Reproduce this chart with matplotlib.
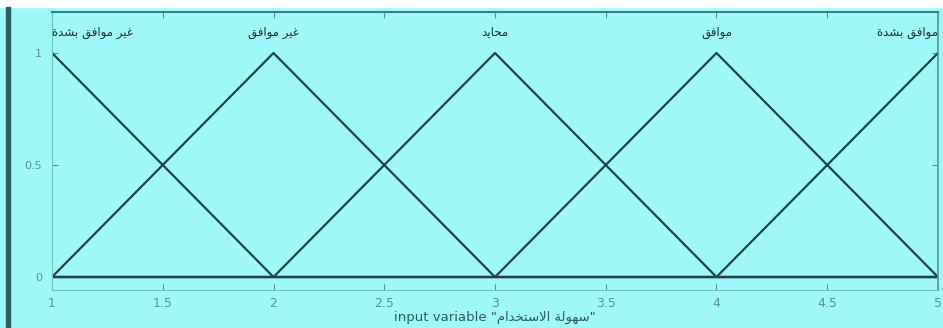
import numpy as np
import matplotlib.pyplot as plt
from matplotlib.patches import Rectangle

# Data: membership functions read at the break points
x_points = [1, 2, 3, 4, 5]
mf_strongly_disagree = [1, 0, 0, 0, 0]
mf_disagree = [0, 1, 0, 0, 0]
mf_neutral = [0, 0, 1, 0, 0]
mf_agree = [0, 0, 0, 1, 0]
mf_strongly_agree = [0, 0, 0, 0, 1]
mf_names = ["غير موافق بشدة", "غير موافق", "محايد", "موافق", "موافق بشدة"]
mf_peaks = [1, 2, 3, 4, 5]
var_name = "سهولة الاستخدام"
x_ticks = [1, 1.5, 2, 2.5, 3, 3.5, 4, 4.5, 5]
x_tick_labels = ["1", "1.5", "2", "2.5", "3", "3.5", "4", "4.5", "5"]
y_ticks = [0, 0.5, 1]
y_tick_labels = ["0", "0.5", "1"]

# small arabic shaper (matplotlib does no shaping / bidi)
FORMS = {
    "ا": (0xFE8D, 0xFE8E, None, None),
    "ب": (0xFE8F, 0xFE90, 0xFE91, 0xFE92),
    "ة": (0xFE93, 0xFE94, None, None),
    "ت": (0xFE95, 0xFE96, 0xFE97, 0xFE98),
    "ح": (0xFEA1, 0xFEA2, 0xFEA3, 0xFEA4),
    "خ": (0xFEA5, 0xFEA6, 0xFEA7, 0xFEA8),
    "د": (0xFEA9, 0xFEAA, None, None),
    "ر": (0xFEAD, 0xFEAE, None, None),
    "س": (0xFEB1, 0xFEB2, 0xFEB3, 0xFEB4),
    "ش": (0xFEB5, 0xFEB6, 0xFEB7, 0xFEB8),
    "غ": (0xFECD, 0xFECE, 0xFECF, 0xFED0),
    "ف": (0xFED1, 0xFED2, 0xFED3, 0xFED4),
    "ق": (0xFED5, 0xFED6, 0xFED7, 0xFED8),
    "ل": (0xFEDD, 0xFEDE, 0xFEDF, 0xFEE0),
    "م": (0xFEE1, 0xFEE2, 0xFEE3, 0xFEE4),
    "ه": (0xFEE9, 0xFEEA, 0xFEEB, 0xFEEC),
    "و": (0xFEED, 0xFEEE, None, None),
    "ي": (0xFEF1, 0xFEF2, 0xFEF3, 0xFEF4),
    "لا": (0xFEFB, 0xFEFC, None, None),
}


def shape(text):
    units = []
    i = 0
    while i < len(text):
        if text[i:i + 2] == "لا":
            units.append("لا")
            i += 2
        else:
            units.append(text[i])
            i += 1
    out = []
    for k, u in enumerate(units):
        if u not in FORMS:
            out.append(u)
            continue
        f = FORMS[u]
        prev = units[k - 1] if k > 0 else None
        nxt = units[k + 1] if k + 1 < len(units) else None
        pj = prev in FORMS and FORMS[prev][2] is not None
        nj = nxt in FORMS and f[2] is not None
        if pj and nj:
            out.append(chr(f[3]))
        elif pj:
            out.append(chr(f[1]))
        elif nj:
            out.append(chr(f[2]))
        else:
            out.append(chr(f[0]))
    return "".join(out[::-1])


bg = "#a0f7f8"
line_col = "#1d4548"
tick_col = "#5c9396"

fig = plt.figure(figsize=(9.43, 3.28), dpi=100, facecolor=bg)
ax = fig.add_axes([52 / 943, 38 / 328, 886 / 943, 278 / 328])
ax.set_facecolor(bg)

for ys in [mf_strongly_disagree, mf_disagree, mf_neutral, mf_agree, mf_strongly_agree]:
    ax.plot(x_points, ys, color=line_col, lw=1.6)

aligns = ["left", "center", "center", "center", "right"]
for name, p, ha in zip(mf_names, mf_peaks, aligns):
    ax.text(p, 1.09, shape(name), ha=ha, va="center", fontsize=8.5,
            color="#163436", family="DejaVu Sans")

ax.set_xlim(1, 5)
ax.set_ylim(-0.058, 1.183)
ax.set_xticks(x_ticks)
ax.set_xticklabels(x_tick_labels)
ax.set_yticks(y_ticks)
ax.set_yticklabels(y_tick_labels)
ax.tick_params(direction="in", length=4, width=0.8, color=tick_col,
               labelcolor=tick_col, labelsize=8, top=True, right=True)
ax.tick_params(axis="x", pad=5, labelsize=9)
ax.tick_params(axis="y", pad=7)

ax.spines["top"].set_color("#3d8084")
ax.spines["top"].set_linewidth(1.5)
ax.spines["left"].set_color("#6cc3c6")
ax.spines["bottom"].set_color("#6cc3c6")
ax.spines["right"].set_color("#4c989b")
ax.spines["right"].set_linewidth(1.2)

ax.set_xlabel('input variable "' + shape(var_name) + '"', fontsize=9.5,
              color="#2f5d60", labelpad=1)

# screenshot frame: white band on top, dark bar at the left
fig.add_artist(Rectangle((0, 1 - 7 / 328), 1, 7 / 328, transform=fig.transFigure,
                         color="white", zorder=5))
fig.add_artist(Rectangle((6 / 943, 0), 4 / 943, 1 - 7 / 328, transform=fig.transFigure,
                         color="#2e5e60", zorder=5))

plt.savefig("out.png", dpi=100, facecolor=bg)
